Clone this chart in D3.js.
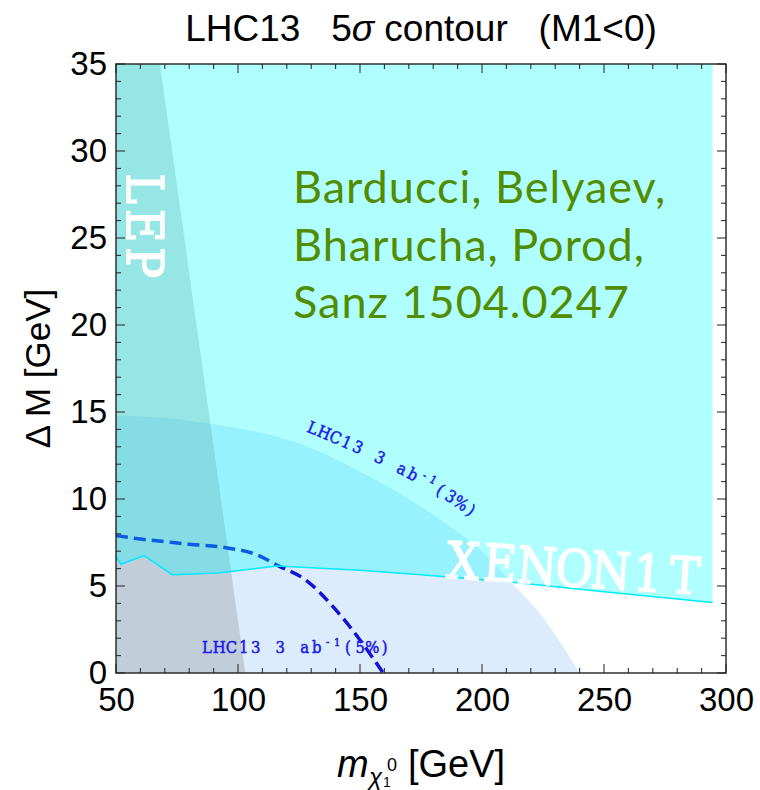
<!DOCTYPE html>
<html><head><meta charset="utf-8">
<script src="https://cdn.jsdelivr.net/npm/d3@7"></script>
<style>
body{margin:0;background:#fff}
svg{display:block}
text{white-space:pre}
</style>
</head><body>
<svg id="chart" width="760" height="790"></svg>
<script>
// Axis ticks
const xMajorTicks = [50, 100, 150, 200, 250, 300];
const yMajorTicks = [0, 5, 10, 15, 20, 25, 30, 35];

// XENON1T reach: region above this boundary (neutralino mass, mass splitting)
const xenonMass = [50, 52, 61.5, 73, 92, 116, 150, 175, 210, 248, 294.5];
const xenonDM   = [6.7, 6.25, 6.75, 5.65, 5.75, 6.15, 5.9, 5.65, 5.25, 4.7, 4.05];

// LEP exclusion edge
const lepMass = [68, 103];
const lepDM   = [35, 0];

// LHC13 3 ab^-1 5σ reach, 3% systematics
const lhc3Mass = [50, 75, 90, 110, 125, 140, 155, 170, 183, 195, 205, 212, 222, 231, 240];
const lhc3DM   = [14.8, 14.6, 14.3, 13.8, 13.2, 12.3, 11.2, 10.0, 8.8, 7.6, 6.3, 5.2, 3.7, 2.0, 0];

// LHC13 3 ab^-1 5σ reach, 5% systematics
const lhc5Mass = [50, 60, 70, 80, 95, 107.6, 116, 128.2, 139, 150, 159.5];
const lhc5DM   = [7.9, 7.7, 7.55, 7.4, 7.2, 6.8, 6.2, 5.3, 3.8, 1.9, 0];

const W = 760, H = 790;
const margin = {left: 116, top: 64, right: 34, bottom: 117};
const iw = W - margin.left - margin.right;   // 610
const ih = H - margin.top - margin.bottom;   // 609

const x = d3.scaleLinear().domain([50, 300]).range([0, iw]);
const y = d3.scaleLinear().domain([0, 35]).range([ih, 0]);

const svg = d3.select('#chart');
const g = svg.append('g').attr('transform', `translate(${margin.left},${margin.top})`);

const defs = svg.append('defs');
defs.append('clipPath').attr('id', 'plotClip')
  .append('rect').attr('width', iw).attr('height', ih);

const plot = g.append('g').attr('clip-path', 'url(#plotClip)');

const zip = (a, b) => a.map((v, i) => [v, b[i]]);

// 3% reach region
const lhc3 = zip(lhc3Mass, lhc3DM);
plot.append('path')
  .datum(lhc3)
  .attr('d', d3.area().x(d => x(d[0])).y0(y(0)).y1(d => y(d[1])).curve(d3.curveMonotoneX))
  .attr('fill', 'rgb(0,110,235)')
  .attr('fill-opacity', 0.135);

// LEP excluded region
const lepPoly = [[50, 35], [lepMass[0], lepDM[0]], [lepMass[1], lepDM[1]], [50, 0]];
plot.append('path')
  .datum(lepPoly)
  .attr('d', d3.line().x(d => x(d[0])).y(d => y(d[1])))
  .attr('fill', '#707070')
  .attr('fill-opacity', 0.25);

// 5% reach, dashed
const lhc5 = zip(lhc5Mass, lhc5DM);
plot.append('path')
  .datum(lhc5)
  .attr('d', d3.line().x(d => x(d[0])).y(d => y(d[1])).curve(d3.curveMonotoneX))
  .attr('fill', 'none')
  .attr('stroke', '#1212d6')
  .attr('stroke-width', 3.5)
  .attr('stroke-dasharray', '12,6');

// XENON1T reach region
const xenon = zip(xenonMass, xenonDM);
plot.append('path')
  .datum(xenon)
  .attr('d', d3.area().x(d => x(d[0])).y0(y(35)).y1(d => y(d[1])))
  .attr('fill', '#00ffff')
  .attr('fill-opacity', 0.31);
plot.append('path')
  .datum(xenon)
  .attr('d', d3.line().x(d => x(d[0])).y(d => y(d[1])))
  .attr('fill', 'none')
  .attr('stroke', '#00eaff')
  .attr('stroke-width', 1.5);

// Frame with inward ticks on all four sides
const minorX = d3.range(50, 301, 10);
const minorY = d3.range(0, 36, 1);
const tickLenY = v => (v % 5 === 0 ? 9 : 5);
const tickLenX = v => (v % 50 === 0 ? 9 : 5);
const ticks = g.append('g').attr('stroke', '#333').attr('stroke-width', 1.1);
minorX.forEach(v => {
  ticks.append('line').attr('x1', x(v)).attr('x2', x(v)).attr('y1', ih).attr('y2', ih - tickLenX(v));
  ticks.append('line').attr('x1', x(v)).attr('x2', x(v)).attr('y1', 0).attr('y2', tickLenX(v));
});
minorY.forEach(v => {
  ticks.append('line').attr('y1', y(v)).attr('y2', y(v)).attr('x1', 0).attr('x2', tickLenY(v));
  ticks.append('line').attr('y1', y(v)).attr('y2', y(v)).attr('x1', iw).attr('x2', iw - tickLenY(v));
});
g.append('rect').attr('width', iw).attr('height', ih)
  .attr('fill', 'none').attr('stroke', '#222').attr('stroke-width', 1.4);

// Tick labels
const axisFont = '"Liberation Sans", Arial, sans-serif';
const xAxis = g.append('g').attr('transform', `translate(0,${ih})`)
  .call(d3.axisBottom(x).tickValues(xMajorTicks).tickSize(0).tickPadding(15).tickFormat(d3.format('d')));
const yAxis = g.append('g')
  .call(d3.axisLeft(y).tickValues(yMajorTicks).tickSize(0).tickPadding(9).tickFormat(d3.format('d')));
[xAxis, yAxis].forEach(a => {
  a.select('.domain').remove();
  a.selectAll('text').attr('font-family', axisFont).attr('font-size', 33).attr('fill', '#000');
});

// Title
const title = svg.append('text')
  .attr('x', margin.left + iw / 2).attr('y', 41)
  .attr('text-anchor', 'middle')
  .attr('font-family', axisFont).attr('font-size', 37).attr('fill', '#000');
title.append('tspan').text('LHC13   5');
title.append('tspan').attr('font-style', 'italic').text('σ');
title.append('tspan').text(' contour   (M1<0)');

// Y axis label
svg.append('text')
  .attr('transform', `translate(50,${margin.top + ih / 2}) rotate(-90)`)
  .attr('text-anchor', 'middle')
  .attr('font-family', axisFont).attr('font-size', 35).attr('fill', '#000')
  .text('Δ M [GeV]');

// X axis label: m_{χ1^0} [GeV]
const xl = svg.append('g').attr('font-family', axisFont).attr('fill', '#000');
xl.append('text').attr('x', 337).attr('y', 777).attr('font-size', 38).attr('font-style', 'italic').text('m');
xl.append('text').attr('x', 369).attr('y', 785).attr('font-size', 24).attr('font-style', 'italic').text('χ');
xl.append('text').attr('x', 387).attr('y', 771).attr('font-size', 18).text('0');
xl.append('text').attr('x', 383).attr('y', 787).attr('font-size', 14).text('1');
xl.append('text').attr('x', 408).attr('y', 777).attr('font-size', 38).text('[GeV]');

// Typewriter-style labels: each glyph sits in a fixed-width cell along a baseline path
function charsAlongPath(parent, d, segments, o) {
  const node = parent.append('path').attr('d', d).attr('fill', 'none').attr('stroke', 'none').node();
  const L = node.getTotalLength();
  const grp = parent.append('g')
    .attr('font-family', o.family).attr('font-weight', o.weight || 'normal').attr('fill', o.fill)
    .attr('stroke', o.fill).attr('stroke-width', o.stroke || 0).attr('stroke-linejoin', 'round');
  let s = o.start || 0;
  segments.forEach(seg => {
    const adv = seg.sup ? o.supAdv : o.adv;
    for (const ch of seg.text) {
      const c = s + adv / 2;
      s += adv;
      if (ch === ' ') continue;
      const p = node.getPointAtLength(Math.min(c, L));
      const q0 = node.getPointAtLength(Math.max(c - 1, 0));
      const q1 = node.getPointAtLength(Math.min(c + 1, L));
      const ang = Math.atan2(q1.y - q0.y, q1.x - q0.x);
      const raise = seg.sup ? o.supRaise : 0;
      const px = p.x + Math.sin(ang) * raise, py = p.y - Math.cos(ang) * raise;
      grp.append('text')
        .attr('transform', `translate(${px},${py}) rotate(${ang * 180 / Math.PI}) scale(${o.sx || 1},1)`)
        .attr('text-anchor', 'middle')
        .attr('font-size', seg.sup ? o.supSize : o.size)
        .text(ch);
    }
  });
}

const serif = '"DejaVu Serif", "Liberation Serif", serif';
const bigLabel = {family: serif, fill: '#fff', size: 51, adv: 37, sx: 0.9, stroke: 1.6};

// LEP (reads downward)
const lepX = x(54.5), lepY0 = y(28.9);
charsAlongPath(g, `M${lepX},${lepY0} L${lepX},${lepY0 + 200}`, [{text: 'LEP'}], bigLabel);

// XENON1T (tilted along its boundary)
const xnX = x(184.3), xnY = y(5.48), tilt = 3.8 * Math.PI / 180;
charsAlongPath(g, `M${xnX},${xnY} L${xnX + 400 * Math.cos(tilt)},${xnY + 400 * Math.sin(tilt)}`,
  [{text: 'XENON1T'}], bigLabel);

const smallLabel = {family: serif, fill: '#1c1ce6', size: 16.5, adv: 12.2,
                    supSize: 11, supAdv: 9.5, supRaise: 7, sx: 0.9, stroke: 0.55};

// 3% label follows the reach contour
const p0 = [x(127.46), y(13.91)], pc = [x(174.96), y(11.21)], p2 = [x(197.5), y(8.74)];
charsAlongPath(g, `M${p0[0]},${p0[1]} Q${pc[0]},${pc[1]} ${p2[0]},${p2[1]}`,
  [{text: 'LHC13 3 ab'}, {text: '-1', sup: true}, {text: '(3%)'}], smallLabel);

// 5% label
const q0 = [x(84.8), y(1.13)];
charsAlongPath(g, `M${q0[0]},${q0[1]} h300`,
  [{text: 'LHC13 3 ab'}, {text: '-1', sup: true}, {text: '(5%)'}], smallLabel);

// Reference annotation
const cite = ['Barducci, Belyaev,', 'Bharucha, Porod,', 'Sanz 1504.0247'];
const ct = g.append('text')
  .attr('font-family', 'Lato, "Noto Sans", sans-serif').attr('font-size', 45)
  .attr('letter-spacing', 1.0).attr('fill', '#528c00');
cite.forEach((s, i) => {
  ct.append('tspan').attr('x', 293 - margin.left).attr('y', 203 - margin.top + i * 57.5).text(s);
});
</script>
</body></html>
